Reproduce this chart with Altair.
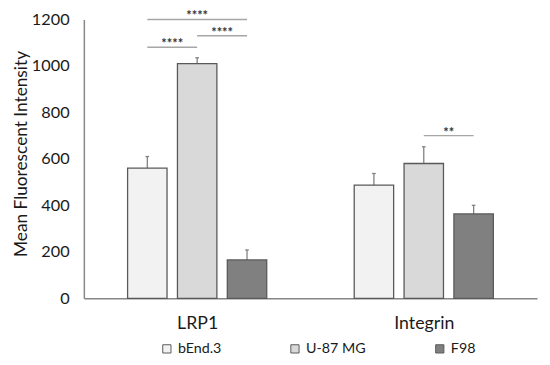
import json
import altair as alt
import pandas as pd

# ---- data ----
groups = ["LRP1", "Integrin"]
series = ["bEnd.3", "U-87 MG", "F98"]
mean_bend = [560, 487]
mean_u87 = [1010, 580]
mean_f98 = [165, 363]
err_bend = [50, 50]
err_u87 = [25, 72]
err_f98 = [43, 37]

sig_group = ["LRP1", "LRP1", "LRP1", "Integrin"]
sig_from = ["bEnd.3", "U-87 MG", "bEnd.3", "U-87 MG"]
sig_to = ["U-87 MG", "F98", "F98", "F98"]
sig_y = [1080, 1130, 1200, 700]
sig_label = ["****", "****", "****", "**"]

colors = ["#f2f2f2", "#d9d9d9", "#808080"]

means = [mean_bend, mean_u87, mean_f98]
errs = [err_bend, err_u87, err_f98]
rows = []
for si, s in enumerate(series):
    for gi, g in enumerate(groups):
        rows.append({"group": g, "gi": gi, "series": s, "si": si,
                     "mean": means[si][gi], "err": errs[si][gi]})
df = pd.DataFrame(rows)

sig = pd.DataFrame({
    "group": sig_group,
    "gi": [groups.index(g) for g in sig_group],
    "sa": [series.index(s) for s in sig_from],
    "sb": [series.index(s) for s in sig_to],
    "y": sig_y,
    "label": sig_label,
})

STEP = 0.22   # distance between bar centres (x units)
HALF = 0.087  # half bar width
CAP = 0.008

xscale = alt.Scale(domain=[0, 2], nice=False, zero=False)
yscale = alt.Scale(domain=[0, 1200], nice=False)

label_expr = json.dumps(groups) + "[round(datum.value - 0.5)]"

xaxis = alt.Axis(values=[0.5, 1.5], labelExpr=label_expr, ticks=False, grid=False,
                 domainColor="#868686", domainWidth=1.5, labelPadding=17,
                 labelFont="Lato", labelFontSize=18, labelColor="#1a1a1a", title=None)
yaxis = alt.Axis(values=[0, 200, 400, 600, 800, 1000, 1200], format="d",
                 ticks=False, grid=False,
                 domainColor="#868686", domainWidth=1.5, labelPadding=15,
                 labelFont="Lato", labelFontSize=16.5, labelColor="#1a1a1a",
                 title="Mean Fluorescent Intensity", titleFont="Lato",
                 titleFontSize=17.5, titleFontWeight="normal", titleColor="#1a1a1a",
                 titlePadding=1, titleY=136)

base = alt.Chart(df).transform_calculate(
    c=f"datum.gi + 0.5 + (datum.si - 1) * {STEP}",
).transform_calculate(
    x0=f"datum.c - {HALF}", x1=f"datum.c + {HALF}",
    top="datum.mean + datum.err",
    cl=f"datum.c - {CAP}", cr=f"datum.c + {CAP}",
)

bars = base.mark_bar(stroke="#595959", strokeWidth=1.3).encode(
    x=alt.X("x0:Q", scale=xscale, axis=xaxis),
    x2="x1:Q",
    y=alt.Y("mean:Q", scale=yscale, axis=yaxis),
    y2=alt.datum(0),
    fill=alt.Fill("series:N", scale=alt.Scale(domain=series, range=colors),
                  legend=alt.Legend(orient="none", legendX=77, legendY=327,
                                    direction="horizontal", title=None,
                                    symbolType="square", symbolSize=70,
                                    symbolStrokeColor="#595959", symbolStrokeWidth=1,
                                    labelFont="Lato", labelFontSize=14.5,
                                    labelColor="#1a1a1a", labelOffset=4,
                                    columnPadding=67)),
)

err_line = base.mark_rule(color="#808080", strokeWidth=1.3).encode(
    x="c:Q", y="mean:Q", y2="top:Q")
err_cap = base.mark_rule(color="#808080", strokeWidth=1.3).encode(
    x="cl:Q", x2="cr:Q", y="top:Q")

sbase = alt.Chart(sig).transform_calculate(
    xa=f"datum.gi + 0.5 + (datum.sa - 1) * {STEP}",
    xb=f"datum.gi + 0.5 + (datum.sb - 1) * {STEP}",
).transform_calculate(mid="(datum.xa + datum.xb) / 2")

sig_lines = sbase.mark_rule(color="#a6a6a6", strokeWidth=1.5).encode(
    x="xa:Q", x2="xb:Q", y="y:Q")
sig_text = sbase.mark_text(font="Lato", fontSize=13, fontWeight="bold",
                           color="#333333", baseline="alphabetic", dy=1).encode(
    x="mid:Q", y="y:Q", text="label:N")

chart = alt.layer(err_line, err_cap, bars, sig_lines, sig_text).properties(
    width=460, height=283,
    autosize=alt.AutoSizeParams(type="none"),
    padding={"left": 77, "top": 9, "right": 5, "bottom": 57},
).configure_view(stroke=None)

chart.save("out.html", embed_options={"renderer": "svg", "actions": False})
